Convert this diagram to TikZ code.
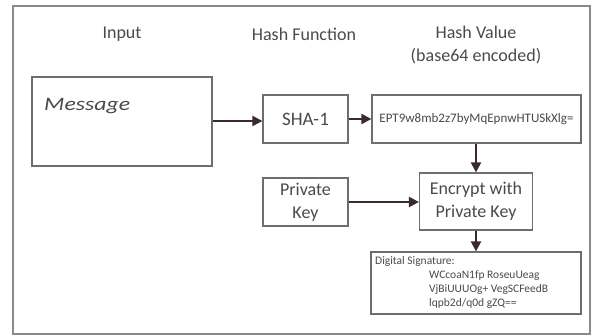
\documentclass[tikz,border=0pt]{standalone}
\usepackage{fontspec}
\setmainfont{Carlito}
\usetikzlibrary{arrows.meta}
\definecolor{frameGray}{HTML}{8A8A8A}
\definecolor{boxGray}{HTML}{6E6E6E}
\definecolor{txtGray}{HTML}{4A4A4A}
\definecolor{arrowDark}{HTML}{3A2A2E}
\tikzset{
  box/.style={draw=boxGray, line width=1.2pt, fill=white, inner sep=0pt,
    text=txtGray, align=center},
  header/.style={text=txtGray, font=\fontsize{18}{23}\selectfont, align=center, inner sep=0pt},
  flow/.style={draw=arrowDark, line width=2.2pt,
    -{Triangle[length=10pt,width=10pt]}},
}
\begin{document}
\begin{tikzpicture}[x=1pt,y=-1pt]
\useasboundingbox (0,0) rectangle (595,336);
% outer frame
\draw[draw=frameGray, line width=1.5pt] (13,6) rectangle (590,334);

% column headings
\node[header] (hIn) at (122,34) {Input};
\node[header] (hFn) at (304,34) {Hash Function};
\node[header] (hVal) at (476,45) {Hash Value\\(base64 encoded)};

% boxes
\node[box, minimum width=180pt, minimum height=89pt] (msg) at (122,121.5) {};
\node[text=txtGray, anchor=west, inner sep=0pt, font=\fontsize{19}{20}\selectfont\itshape] (msgtxt) at (44,106)
  {\scalebox{1.25}[1]{Message}};

\node[box, minimum width=85pt, minimum height=48pt, font=\fontsize{19}{22}\selectfont] (sha) at (305.5,119) {SHA-1};
\node[box, minimum width=209pt, minimum height=48pt, font=\fontsize{13}{15}\selectfont] (hash) at (476.5,119) {EPT9w8mb2z7byMqEpnwHTUSkXlg=};

\node[box, minimum width=85pt, minimum height=48pt, font=\fontsize{18}{23}\selectfont] (key) at (305.5,202) {Private\\Key};
\node[box, minimum width=113pt, minimum height=57pt, font=\fontsize{18}{23}\selectfont] (enc) at (476,201.5) {Encrypt with\\Private Key};

\node[box, minimum width=210pt, minimum height=62pt] (sig) at (476,283) {};
\node[text=txtGray, anchor=north west, inner sep=0pt, align=left,
  font=\fontsize{11.5}{14}\selectfont] (sigtxt) at (375,256)
  {Digital Signature:\\
   \hspace*{54pt}WCcoaN1fp RoseuUeag\\
   \hspace*{54pt}VjBiUUUOg+ VegSCFeedB\\
   \hspace*{54pt}lqpb2d/q0d gZQ==};

% connectors
\draw[flow] (msg.east |- 0,121) -- (sha.west |- 0,121);
\draw[flow] (sha.east) -- (hash.west);
\draw[flow] (hash.south -| enc.north) -- (enc.north);
\draw[flow] (key.east) -- (enc.west |- key.east);
\draw[flow] (enc.south) -- (enc.south |- sig.north);
\end{tikzpicture}
\end{document}
